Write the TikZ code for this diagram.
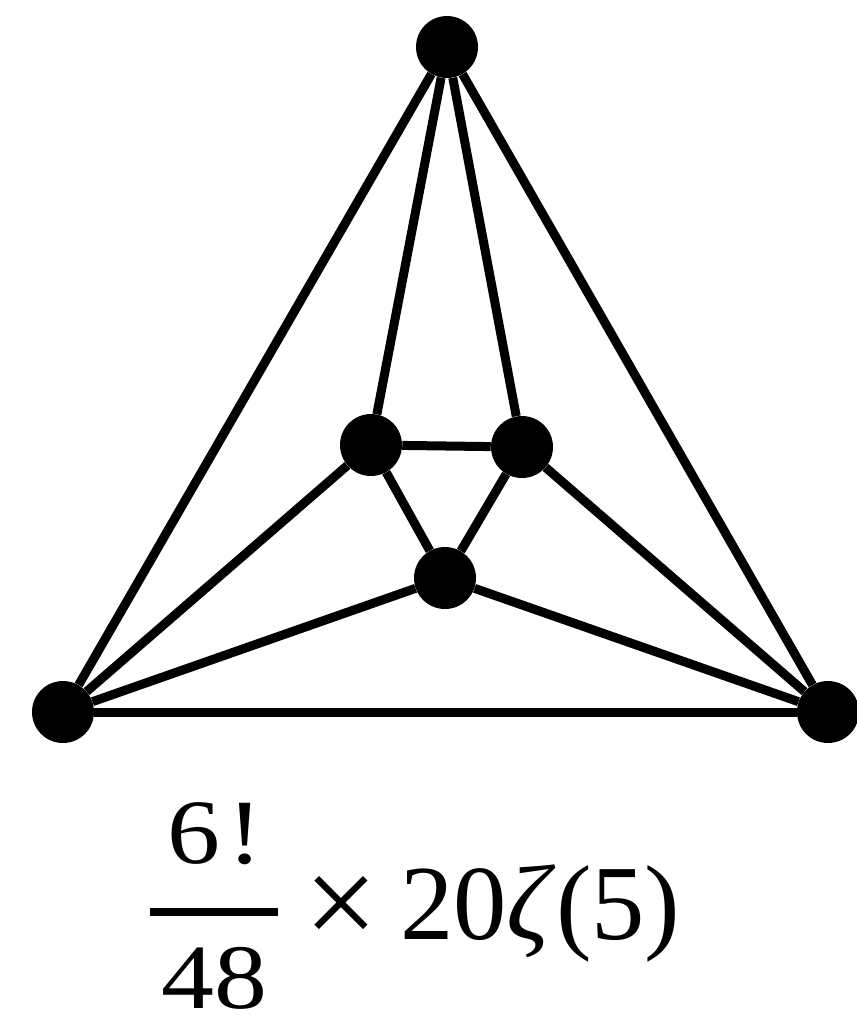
\documentclass[tikz,border=0pt]{standalone}
\usepackage{graphicx}
\usepackage{fontspec}
\setmainfont{Liberation Serif}
\begin{document}
\begin{tikzpicture}[x=0.75pt,y=-0.75pt,
  vtx/.style={circle,fill=black,inner sep=0pt,minimum size=46.5pt},
  edge/.style={line width=6.75pt},
  frac/.style={inner sep=0pt,anchor=base west,font=\fontsize{69}{72}\selectfont},
  lbl/.style={inner sep=0pt,anchor=base west,font=\fontsize{80}{84}\selectfont}]
\useasboundingbox (0,0) rectangle (857,1022);
\node[vtx] (t) at (447,47) {};
\node[vtx] (l) at (63,712) {};
\node[vtx] (r) at (828,712) {};
\node[vtx] (a) at (371,445) {};
\node[vtx] (b) at (522,447) {};
\node[vtx] (c) at (445,578) {};
\draw[edge] (t) -- (l);
\draw[edge] (t) -- (r);
\draw[edge] (l) -- (r);
\draw[edge] (t) -- (a);
\draw[edge] (t) -- (b);
\draw[edge] (a) -- (b);
\draw[edge] (a) -- (c);
\draw[edge] (b) -- (c);
\draw[edge] (l) -- (a);
\draw[edge] (l) -- (c);
\draw[edge] (r) -- (b);
\draw[edge] (r) -- (c);
\node[frac] (num) at (167,863) {\scalebox{1.15}[1]{6\kern4.8pt!}};
\node[frac] (den) at (161,1008) {\scalebox{1.15}[1]{48}};
\coordinate (bl) at (150,912);
\coordinate (br) at (278,912);
\draw[line width=6pt] (bl) -- (br);
\node[inner sep=0pt,anchor=center,font=\fontsize{98}{100}\selectfont] (times) at (341,911) {×};
\node[lbl] (rest) at (400,939) {20\textit{ζ}(5)};
\end{tikzpicture}
\end{document}
